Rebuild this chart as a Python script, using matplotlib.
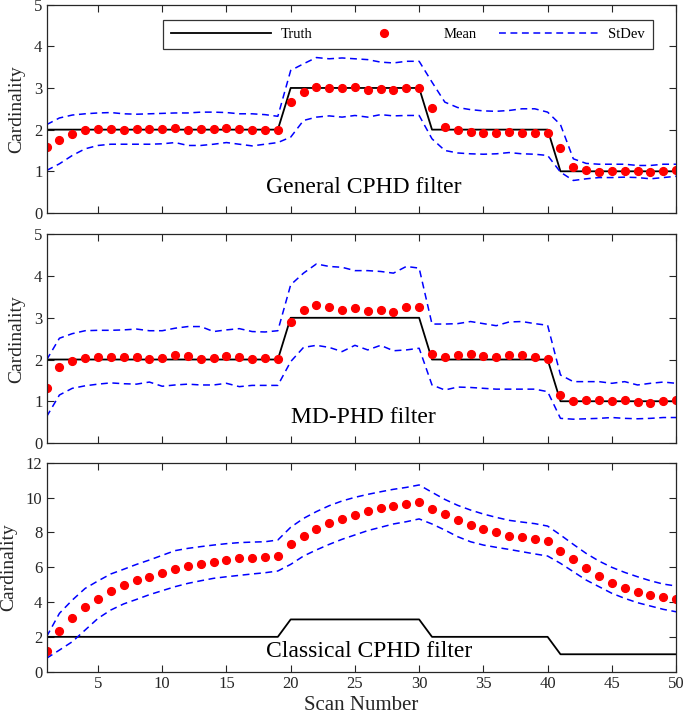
import matplotlib
matplotlib.use("Agg")
import matplotlib.pyplot as plt
import numpy as np

plt.rcParams['font.family'] = ['Liberation Serif', 'DejaVu Serif']
plt.rcParams['mathtext.fontset'] = 'stix'

scans = list(range(1, 51))
truth = [2] * 19 + [3] * 11 + [2] * 10 + [1] * 10

# General CPHD filter
gen_mean = [1.58, 1.76, 1.90, 1.98, 2.01, 2.02, 2.00, 2.02, 2.01, 2.01,
            2.03, 2.00, 2.02, 2.02, 2.03, 2.01, 1.99, 1.99, 2.00, 2.66,
            2.91, 3.02, 3.01, 3.01, 3.02, 2.96, 2.98, 2.96, 3.01, 3.00,
            2.53, 2.06, 1.98, 1.94, 1.93, 1.93, 1.94, 1.93, 1.93, 1.92,
            1.57, 1.10, 1.03, 0.99, 1.00, 1.00, 1.00, 0.99, 1.00, 1.02]
gen_upper = [2.12, 2.28, 2.35, 2.38, 2.40, 2.41, 2.38, 2.37, 2.38, 2.39,
             2.40, 2.40, 2.42, 2.42, 2.41, 2.38, 2.38, 2.36, 2.32, 3.42,
             3.58, 3.73, 3.70, 3.72, 3.70, 3.68, 3.62, 3.60, 3.64, 3.64,
             3.14, 2.66, 2.53, 2.48, 2.45, 2.44, 2.46, 2.50, 2.50, 2.42,
             2.12, 1.30, 1.19, 1.17, 1.17, 1.17, 1.14, 1.14, 1.17, 1.17]
gen_lower = [1.02, 1.18, 1.38, 1.54, 1.62, 1.65, 1.65, 1.65, 1.65, 1.66,
             1.69, 1.62, 1.62, 1.65, 1.69, 1.65, 1.61, 1.65, 1.69, 1.82,
             2.22, 2.30, 2.33, 2.30, 2.34, 2.30, 2.36, 2.33, 2.34, 2.34,
             1.78, 1.50, 1.44, 1.42, 1.41, 1.42, 1.45, 1.42, 1.41, 1.38,
             0.98, 0.78, 0.82, 0.85, 0.85, 0.86, 0.85, 0.82, 0.85, 0.88]

# MD-PHD filter
md_mean = [1.31, 1.81, 1.97, 2.03, 2.06, 2.06, 2.06, 2.07, 2.02, 2.04,
           2.10, 2.08, 2.02, 2.04, 2.08, 2.05, 2.02, 2.04, 2.02, 2.90,
           3.18, 3.30, 3.26, 3.18, 3.24, 3.17, 3.18, 3.15, 3.26, 3.26,
           2.14, 2.06, 2.12, 2.14, 2.09, 2.06, 2.10, 2.10, 2.05, 2.02,
           1.16, 1.01, 1.03, 1.02, 1.01, 1.02, 0.99, 0.96, 1.01, 1.02]
md_upper = [1.99, 2.51, 2.62, 2.69, 2.70, 2.70, 2.71, 2.73, 2.69, 2.69,
            2.75, 2.79, 2.79, 2.67, 2.71, 2.74, 2.67, 2.66, 2.69, 3.79,
            4.07, 4.29, 4.23, 4.21, 4.13, 4.13, 4.11, 4.07, 4.23, 4.19,
            2.85, 2.85, 2.86, 2.91, 2.86, 2.81, 2.90, 2.91, 2.86, 2.82,
            1.63, 1.47, 1.47, 1.47, 1.43, 1.47, 1.39, 1.43, 1.46, 1.43]
md_lower = [0.63, 1.15, 1.31, 1.37, 1.41, 1.44, 1.42, 1.41, 1.46, 1.36,
            1.39, 1.41, 1.39, 1.39, 1.43, 1.35, 1.38, 1.38, 1.38, 1.95,
            2.29, 2.34, 2.29, 2.19, 2.34, 2.23, 2.34, 2.21, 2.23, 2.27,
            1.39, 1.27, 1.34, 1.33, 1.31, 1.29, 1.29, 1.29, 1.29, 1.23,
            0.59, 0.57, 0.58, 0.59, 0.61, 0.59, 0.58, 0.59, 0.61, 0.61]

# Classical CPHD filter
cl_mean = [1.19, 2.33, 3.06, 3.69, 4.19, 4.61, 4.98, 5.26, 5.45, 5.68,
           5.91, 6.07, 6.18, 6.30, 6.41, 6.51, 6.55, 6.60, 6.64, 7.31,
           7.81, 8.21, 8.55, 8.78, 9.01, 9.22, 9.38, 9.51, 9.65, 9.72,
           9.36, 9.03, 8.69, 8.44, 8.17, 8.02, 7.79, 7.71, 7.60, 7.50,
           6.93, 6.47, 5.95, 5.49, 5.11, 4.82, 4.57, 4.40, 4.27, 4.19]
cl_upper = [2.01, 3.35, 4.11, 4.78, 5.21, 5.61, 5.88, 6.16, 6.41, 6.68,
            6.95, 7.08, 7.18, 7.27, 7.35, 7.41, 7.44, 7.46, 7.56, 8.29,
            8.80, 9.19, 9.53, 9.80, 10.01, 10.18, 10.33, 10.47, 10.58, 10.72,
            10.30, 9.89, 9.55, 9.28, 9.05, 8.86, 8.69, 8.59, 8.50, 8.36,
            7.85, 7.31, 6.79, 6.35, 5.99, 5.70, 5.45, 5.22, 5.03, 4.92]
cl_lower = [0.77, 1.24, 1.72, 2.39, 3.06, 3.54, 3.89, 4.15, 4.42, 4.65,
            4.88, 5.07, 5.22, 5.36, 5.45, 5.53, 5.61, 5.68, 5.78, 6.16,
            6.64, 6.99, 7.31, 7.60, 7.85, 8.10, 8.29, 8.48, 8.61, 8.77,
            8.48, 8.13, 7.75, 7.46, 7.27, 7.14, 7.02, 6.89, 6.76, 6.64,
            6.22, 5.74, 5.26, 4.88, 4.50, 4.21, 3.96, 3.77, 3.58, 3.44]

panel_titles = ['General CPHD filter', 'MD-PHD filter', 'Classical CPHD filter']
x_ticks = [5, 10, 15, 20, 25, 30, 35, 40, 45, 50]

fig = plt.figure(figsize=(6.85, 7.21), dpi=100)
left, width = 0.068, 0.919
boxes = [(left, 0.7046, width, 0.289),
         (left, 0.3856, width, 0.2894),
         (left, 0.0684, width, 0.2899)]

series = [(gen_mean, gen_upper, gen_lower, 5, [0, 1, 2, 3, 4, 5], (18.1, 0.6)),
          (md_mean, md_upper, md_lower, 5, [0, 1, 2, 3, 4, 5], (20.0, 0.6)),
          (cl_mean, cl_upper, cl_lower, 12, [0, 2, 4, 6, 8, 10, 12], (18.1, 1.15))]

dark = '#262626'
for i, (box, (mean, up, lo, ymax, yt, tpos)) in enumerate(zip(boxes, series)):
    ax = fig.add_axes(box)
    h_truth, = ax.plot(scans, truth, color='black', lw=1.3, label='Truth')
    h_mean, = ax.plot(scans, mean, 'o', color='#FF0000', ms=5.6, mec='#FF0000', label='Mean')
    h_sd, = ax.plot(scans, up, color='#0000FF', lw=1.1, dashes=(4.5, 3), label='StDev')
    ax.plot(scans, lo, color='#0000FF', lw=1.1, dashes=(4.5, 3))
    ax.set_xlim(1, 50)
    ax.set_ylim(0, ymax)
    ax.set_xticks(x_ticks)
    ax.set_yticks(yt)
    ax.tick_params(direction='in', top=True, right=True, length=5, width=0.8,
                   labelsize=12, colors=dark, labelcolor=dark, pad=3)
    for s in ax.spines.values():
        s.set_linewidth(0.9)
        s.set_color(dark)
    ax.set_ylabel('Cardinality', fontsize=14, color=dark, labelpad=6)
    ax.text(tpos[0], tpos[1], panel_titles[i], fontsize=17, ha='left', va='center', color='black')
    if i < 2:
        ax.tick_params(labelbottom=False)
    else:
        ax.set_xlabel('Scan Number', fontsize=15, color=dark, labelpad=3)
    if i == 0:
        leg = ax.legend(handles=[h_truth, h_mean, h_sd], ncol=3, loc='upper right',
                        bbox_to_anchor=(0.9635, 0.9266), fontsize=10.5,
                        handlelength=6.9, handletextpad=0.62, columnspacing=1.5,
                        frameon=True, fancybox=False, edgecolor='black',
                        borderpad=0.55, borderaxespad=0.0, numpoints=1)
        leg.get_frame().set_linewidth(0.9)

fig.savefig('out.png', dpi=100)
